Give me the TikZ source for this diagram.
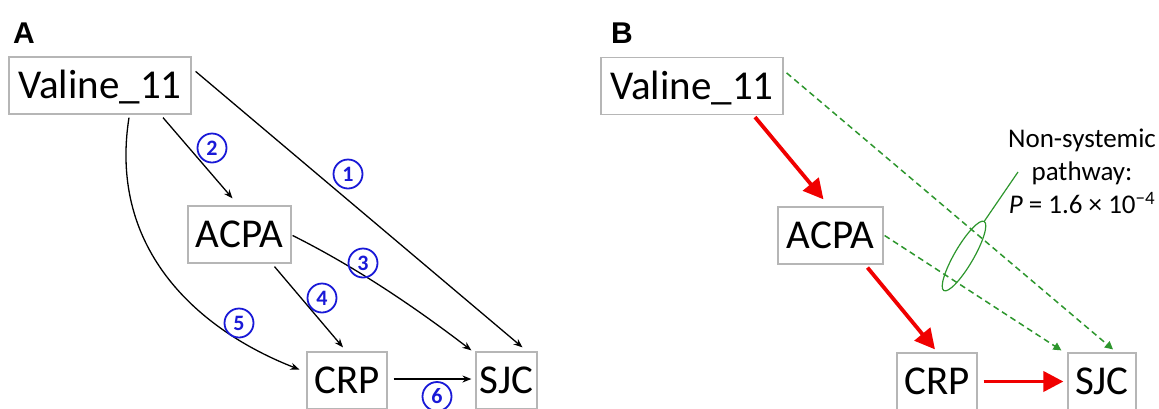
\documentclass[tikz,border=0pt]{standalone}
\usepackage{fontspec}
\setmainfont{Carlito}
\newfontfamily\panelfont{Liberation Sans}
\usetikzlibrary{arrows.meta,calc,shapes.geometric}
\definecolor{boxgray}{RGB}{182,182,182}
\definecolor{numblue}{RGB}{25,25,215}
\definecolor{pathred}{RGB}{240,0,0}
\definecolor{pathgreen}{RGB}{45,150,45}

\begin{document}
\begin{tikzpicture}[x=1pt,y=-1pt,
  var/.style={draw=boxgray, line width=1.2pt, inner sep=0pt, minimum height=57pt,
    text height=26pt, text depth=0pt, font=\fontsize{41}{48}\selectfont},
  num/.style={circle, draw=numblue, text=numblue, line width=1.8pt, minimum size=29pt,
    inner sep=0pt, font=\bfseries\fontsize{22}{26}\selectfont},
  link/.style={line width=1.3pt, -{Stealth[length=9pt,width=7pt]}},
  redlink/.style={draw=pathred, line width=3.8pt, -{Triangle[length=20pt,width=20pt]}},
  greenlink/.style={draw=pathgreen, line width=1.5pt, dash pattern=on 6pt off 4pt,
    -{Triangle[length=8pt,width=8pt]}},
  panel/.style={font=\panelfont\bfseries\fontsize{30}{36}\selectfont, anchor=base, inner sep=0pt},
]
\useasboundingbox (0,0) rectangle (1159,408);
\clip (0,0) rectangle (1159,408);

% ---------- panel A: full mediation model ----------
\node[panel] (labA) at (24,43) {A};
\node[var, minimum width=182pt] (vA) at (100,85.5) {Valine\_11};
\node[var, minimum width=103pt] (aA) at (239.5,234.5) {ACPA};
\node[var, minimum width=80pt]  (cA) at (347,380.5) {CRP};
\node[var, minimum width=61pt]  (sA) at (506.5,380.5) {SJC};

\draw[link] ($(vA.north east)+(4,15)$) -- ($(sA.north)+(16,-4)$);
\draw[link] ($(vA.south)+(63,3)$) -- ($(aA.north)+(-7,-7)$);
\draw[link] ($(aA.east)+(1,1)$) .. controls +(60,30) and +(-60,-46) .. ($(sA.north west)+(-4,-1)$);
\draw[link] ($(aA.south)+(35,3)$) -- ($(cA.north)+(-4,-4)$);
\draw[link] ($(vA.south)+(29,3)$) .. controls +(-21,133) and +(-100,-39) .. ($(cA.west)+(-7,-11)$);
\draw[link] ($(cA.east)+(6,-1.5)$) -- ($(sA.west)+(-4,-1.5)$);

\node[num] (n1) at (348,174) {1};
\node[num] (n2) at (212,148) {2};
\node[num] (n3) at (363,263) {3};
\node[num] (n4) at (322,298) {4};
\node[num] (n5) at (239,323) {5};
\node[num] (n6) at (437,396.5) {6};

% ---------- panel B: systemic vs non-systemic pathway ----------
\node[panel] (labB) at (622,43) {B};
\node[var, minimum width=182pt] (vB) at (692,86) {Valine\_11};
\node[var, minimum width=105pt] (aB) at (830.5,235.5) {ACPA};
\node[var, minimum width=80pt]  (cB) at (937,381.5) {CRP};
\node[var, minimum width=68pt]  (sB) at (1102,381.5) {SJC};

\draw[redlink] ($(vB.south)+(63,2)$) -- ($(aB.north)+(-7,-7)$);
\draw[redlink] ($(aB.south)+(37,3)$) -- ($(cB.north)+(-2,-3)$);
\draw[redlink] ($(cB.east)+(6,0)$) -- ($(sB.west)+(-4,0)$);

\draw[greenlink] ($(vB.north east)+(3,16)$) -- ($(sB.north)+(11,-3)$);
\draw[greenlink] ($(aB.east)+(1,0)$) -- ($(sB.north west)+(-6,-2)$);

\node[ellipse, draw=pathgreen, line width=1.2pt, minimum width=80pt, minimum height=19pt,
  inner sep=0pt, rotate=59.7] (ring) at (964,256) {};
\coordinate (tag) at (1018,172);
\draw[pathgreen, line width=1.2pt] (ring.east) -- (tag);

\node[anchor=north, align=center, inner sep=0pt, font=\fontsize{27}{33}\selectfont]
  (note) at (1082,129) {Non-systemic\\pathway:\\\textit{P} = 1.6 × 10\textsuperscript{−4}};
\end{tikzpicture}
\end{document}
